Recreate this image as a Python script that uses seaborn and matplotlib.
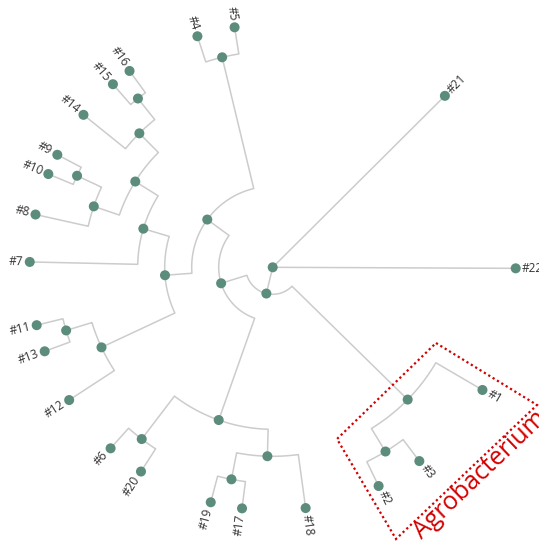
import numpy as np
import pandas as pd
import matplotlib
matplotlib.use("Agg")
import matplotlib.pyplot as plt
from matplotlib.patches import Polygon
import seaborn as sns

# Clustering of isolates, written as a Newick tree (children in drawing order)
newick = ("(#21,#22,((#1,(#3,#2)),(((#18,(#17,#19)),(#20,#6)),"
          "(((#12,(#13,#11)),(#7,((#8,(#10,#9)),(#14,(#15,#16))))),(#4,#5)))));")

# Highlighted clade
clade_name = "Agrobacterium"
clade_box = [(436, 343), (537, 405), (396, 539), (337, 439)]

# Layout / style
W, H = 539, 546
CX, CY = 272.7, 267.3     # tree centre
RADIUS = 243.0            # radius of the leaf ring
LABEL_PAD = 6.5
LINK_COLOR = "#cccccc"
NODE_COLOR = "#5b8c7c"
TEXT_COLOR = "#333333"
CLADE_COLOR = "#d40000"

sns.set_theme(style="white")
plt.rcParams["font.family"] = ["Open Sans", "DejaVu Sans"]


def parse_newick(s):
    pos = 0

    def node():
        nonlocal pos
        if s[pos] == "(":
            pos += 1
            kids = [node()]
            while s[pos] == ",":
                pos += 1
                kids.append(node())
            pos += 1
            return {"name": None, "children": kids}
        start = pos
        while s[pos] not in ",();":
            pos += 1
        return {"name": s[start:pos], "children": []}

    return node()


root = parse_newick(newick)


def annotate(n, depth=0, parent=None):
    n["depth"], n["parent"] = depth, parent
    for c in n["children"]:
        annotate(c, depth + 1, n)
    n["height"] = 0 if not n["children"] else 1 + max(c["height"] for c in n["children"])


annotate(root)


def postorder(n):
    for c in n["children"]:
        yield from postorder(c)
    yield n


def separation(a, b):
    return (1 if a["parent"] is b["parent"] else 2) / a["depth"]


# cluster layout: leaves spaced by separation, parents at the mean of children
prev, x = None, 0.0
all_nodes = list(postorder(root))
leaves = [n for n in all_nodes if not n["children"]]
for n in all_nodes:
    if n["children"]:
        n["x"] = np.mean([c["x"] for c in n["children"]])
    else:
        if prev is not None:
            x += separation(n, prev)
        n["x"] = x
        prev = n

first, last = leaves[0], leaves[-1]
x0 = first["x"] - separation(first, last) / 2
x1 = last["x"] + separation(last, first) / 2
TH = root["height"]
for n in all_nodes:
    n["a"] = (n["x"] - x0) / (x1 - x0) * 2 * np.pi
    n["r"] = (TH - n["height"]) / TH * RADIUS


def to_xy(a, r):
    return CX + r * np.sin(a), CY - r * np.cos(a)


# links: arc at the parent's radius, then a radial segment to the child
rows = []
lid = 0
for n in all_nodes:
    p = n["parent"]
    if p is None:
        continue
    arc = np.linspace(p["a"], n["a"], 40)
    xs, ys = to_xy(arc, p["r"])
    xe, ye = to_xy(n["a"], n["r"])
    xs = np.append(xs, xe)
    ys = np.append(ys, ye)
    for i, (px, py) in enumerate(zip(xs, ys)):
        rows.append({"link": lid, "order": i, "x": px, "y": py})
    lid += 1
links = pd.DataFrame(rows)

node_df = pd.DataFrame(
    [{"x": to_xy(n["a"], n["r"])[0], "y": to_xy(n["a"], n["r"])[1]} for n in all_nodes]
)

fig = plt.figure(figsize=(W / 100, H / 100), dpi=100)
ax = fig.add_axes([0, 0, 1, 1])

sns.lineplot(data=links, x="x", y="y", units="link", estimator=None, sort=False,
             color=LINK_COLOR, linewidth=1.1, legend=False, ax=ax, zorder=1)
sns.scatterplot(data=node_df, x="x", y="y", color=NODE_COLOR, s=52,
                edgecolor="none", legend=False, ax=ax, zorder=3)

for n in leaves:
    deg = np.degrees(n["a"])
    lx, ly = to_xy(n["a"], n["r"] + LABEL_PAD)
    if n["a"] < np.pi:
        rot, ha = 90 - deg, "left"
    else:
        rot, ha = 270 - deg, "right"
    ax.text(lx, ly, n["name"], rotation=rot, rotation_mode="anchor",
            ha=ha, va="center", fontsize=8.6, color=TEXT_COLOR, zorder=4)

ax.add_patch(Polygon(clade_box, closed=True, fill=False, edgecolor=CLADE_COLOR,
                     linewidth=1.6, linestyle=(0, (1, 1.3)), zorder=2))
ax.text(422, 540, clade_name, rotation=43.7, rotation_mode="anchor",
        ha="left", va="baseline", fontsize=18, color=CLADE_COLOR, zorder=4)

ax.set_xlim(0, W)
ax.set_ylim(H, 0)
ax.axis("off")
fig.savefig("out.png", dpi=100, facecolor="white")
